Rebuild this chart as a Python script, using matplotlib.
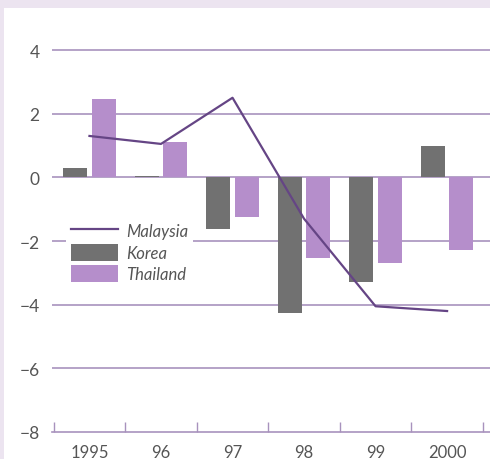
import matplotlib
matplotlib.use("Agg")
import matplotlib.pyplot as plt
import numpy as np
from matplotlib.patches import Rectangle
from matplotlib.lines import Line2D
from matplotlib.patches import Patch

years = ["1995", "96", "97", "98", "99", "2000"]
malaysia = [1.3, 1.05, 2.5, -1.3, -4.05, -4.2]
korea = [0.3, 0.03, -1.63, -4.25, -3.3, 1.0]
thailand = [2.47, 1.12, -1.25, -2.53, -2.69, -2.28]
yticks = [4, 2, 0, -2, -4, -6, -8]

plt.rcParams['font.family'] = ['Lato', 'DejaVu Sans']

W, H = 490, 460
fig = plt.figure(figsize=(W / 100, H / 100), dpi=100, facecolor="#ece4f0")
bg = Rectangle((4 / W, 0), 1, (H - 9) / H, transform=fig.transFigure,
               facecolor="white", edgecolor="none", zorder=-10)
fig.patches.append(bg)

ax = fig.add_axes([52 / W, 27 / H, (W - 52) / W, (433 - 9) / H])
ax.set_zorder(1)
ax.set_facecolor("none")

x = np.arange(len(years))
bw = 0.336
off = 0.2
grid_c = "#a892bd"
korea_c = "#717171"
thai_c = "#b58ecb"
line_c = "#654585"
text_c = "#555555"

for v in [4, 2, 0, -2, -4, -6]:
    ax.axhline(v, color=grid_c, lw=1.2, zorder=1)

ax.bar(x - off, korea, width=bw, color=korea_c, zorder=2, label="Korea")
ax.bar(x + off, thailand, width=bw, color=thai_c, zorder=2, label="Thailand")
ax.plot(x, malaysia, color=line_c, lw=1.6, zorder=3, label="Malaysia")

ax.set_xlim(-0.524, 5.6)
ax.set_ylim(-8, 5.32)

for s in ["top", "right", "left"]:
    ax.spines[s].set_visible(False)
ax.spines["bottom"].set_color(grid_c)
ax.spines["bottom"].set_linewidth(1.2)

ax.set_xticks(x)
ax.set_xticklabels(years)
ax.set_xticks(np.arange(-0.5, 6, 1), minor=True)
ax.tick_params(axis="x", which="major", length=0, pad=9, labelsize=12, labelcolor=text_c)
ax.tick_params(axis="x", which="minor", direction="in", length=7, width=1.0, color=grid_c)

ax.set_yticks(yticks)
ax.set_yticklabels([str(v).replace("-", "\u2212") for v in yticks])
ax.tick_params(axis="y", length=0, pad=9, labelsize=12.5, labelcolor=text_c)

handles = [Line2D([0], [0], color=line_c, lw=1.6),
           Patch(facecolor=korea_c, edgecolor="none"),
           Patch(facecolor=thai_c, edgecolor="none")]
labels = ["Malaysia", "Korea", "Thailand"]
leg = ax.legend(handles, labels, loc="upper left",
                bbox_to_anchor=((66 - 52) / (W - 52), (433 - 218) / (433 - 9)),
                frameon=True, framealpha=1, edgecolor="none", facecolor="white",
                fancybox=False, handlelength=2.8, handleheight=1.2, handletextpad=0.5,
                labelspacing=0.26, borderpad=0.3, borderaxespad=0,
                prop={"style": "italic", "size": 12})
for t in leg.get_texts():
    t.set_color(text_c)

fig.savefig("out.png", dpi=100, facecolor=fig.get_facecolor())
